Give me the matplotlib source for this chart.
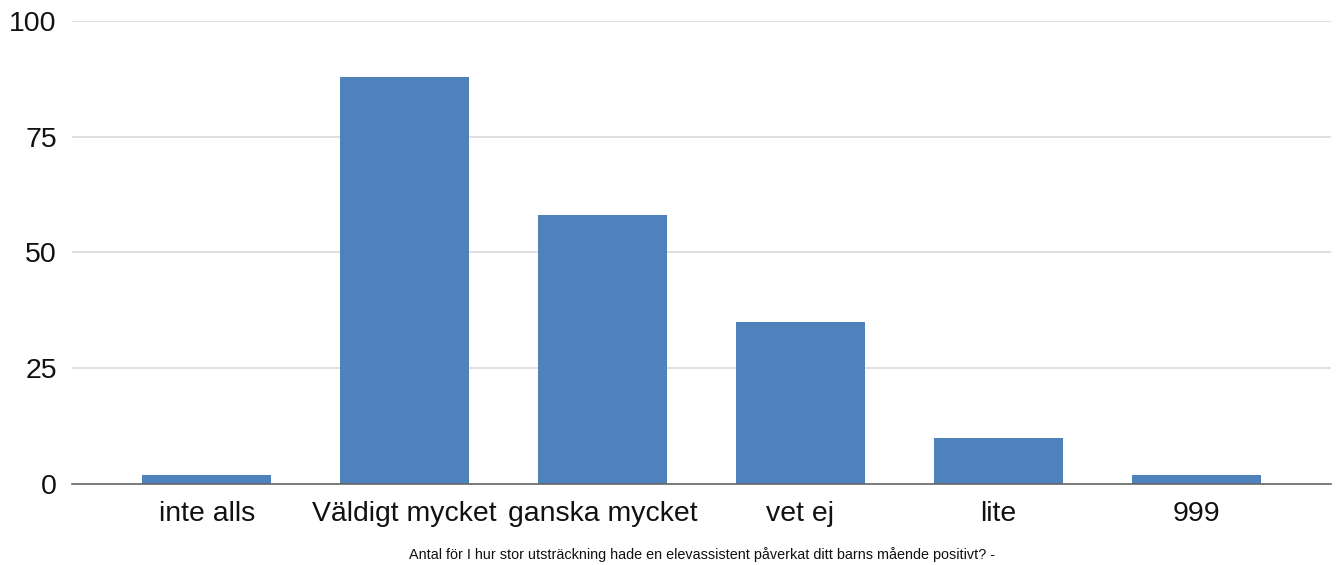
import matplotlib
matplotlib.use("Agg")
import matplotlib.pyplot as plt

# ── data ──────────────────────────────────────────────────────────────────────
categories = ["inte alls", "Väldigt mycket", "ganska mycket", "vet ej", "lite", "999"]
counts = [2, 88, 58, 35, 10, 2]
yticks = [0, 25, 50, 75, 100]
xlabel = "Antal för I hur stor utsträckning hade en elevassistent påverkat ditt barns mående positivt? -"

plt.rcParams["font.family"] = ["Liberation Sans", "DejaVu Sans"]

fig = plt.figure(figsize=(13.37, 5.65), dpi=100)
ax = fig.add_axes([0.0539, 0.1434, 0.9416, 0.8194])

x = list(range(len(categories)))
ax.bar(x, counts, width=0.65, color="#4f81bd", zorder=3)

ax.set_xlim(-0.68, len(categories) - 1 + 0.68)
ax.set_ylim(0, 100)
ax.set_yticks(yticks)
ax.set_yticklabels([str(v) for v in yticks], fontsize=20.5, color="#111111")
ax.set_xticks(x)
ax.set_xticklabels(categories, fontsize=20.4, color="#111111")
ax.tick_params(axis="y", length=0, pad=11)
ax.tick_params(axis="x", length=0, pad=12)

ax.grid(axis="y", color="#d9d9d9", lw=1.2, zorder=0)
for s in ["top", "right", "left"]:
    ax.spines[s].set_visible(False)
ax.spines["bottom"].set_color("#666666")
ax.spines["bottom"].set_linewidth(1.2)
ax.spines["bottom"].set_zorder(4)

fig.text(0.5247, 0.006, xlabel, ha="center", va="bottom", fontsize=10.4, color="#111111")

fig.savefig("out.png", dpi=100)
